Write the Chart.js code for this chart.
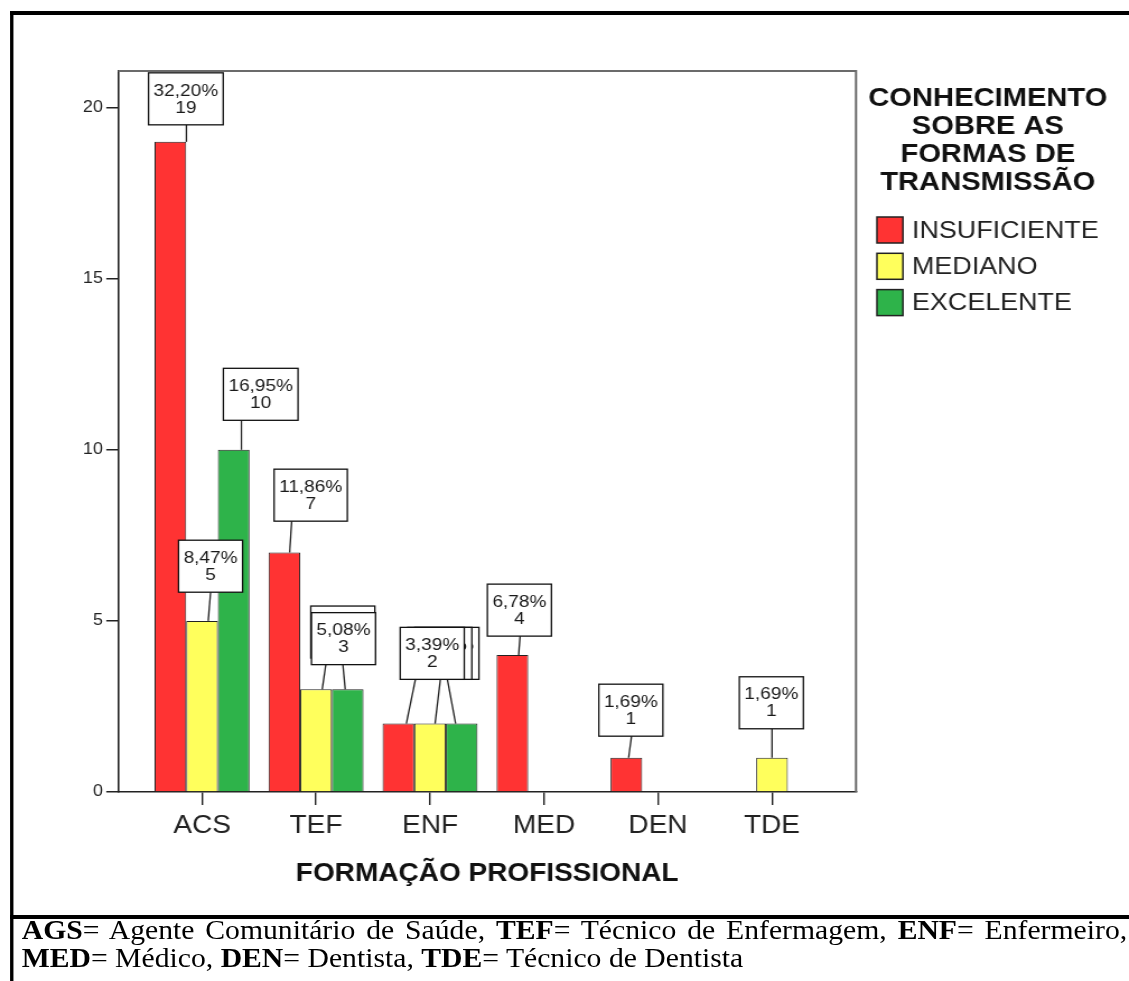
<!DOCTYPE html>
<html lang="pt-BR">
<head>
<meta charset="utf-8">
<title>Formação profissional e conhecimento sobre as formas de transmissão</title>
<script src="https://cdn.jsdelivr.net/npm/chart.js@4.4.1/dist/chart.umd.min.js"></script>
<style>
  html, body { margin: 0; padding: 0; background: #fff; overflow: hidden; }
  /* the figure is laid out at 1008px and widened to the 1129px page */
  #page { position: absolute; left: 0; top: 0; width: 1008px; height: 981px;
          transform: scaleX(1.12); transform-origin: 0 0; overflow: hidden; background: #fff; }
  #chart { position: absolute; left: 0; top: 0; }
  #frame { position: absolute; left: 8.5px; top: 11px; width: 1100px; height: 908px;
           box-sizing: border-box; border-top: 4px solid #000; border-left: 3px solid #000;
           border-bottom: 4px solid #000; pointer-events: none; }
  #noteBorder { position: absolute; left: 8.5px; top: 919px; width: 3px; height: 62px; background: #000; }
  #note { position: absolute; left: 19.4px; top: 916px; width: 987px;
          font-family: "Liberation Serif", "Times New Roman", serif; font-size: 26.5px;
          line-height: 28px; color: #000; }
  #note .just { text-align: justify; text-align-last: justify; }
</style>
</head>
<body>
<div id="page">
  <canvas id="chart" width="1008" height="915"></canvas>
  <div id="frame"></div>
  <div id="noteBorder"></div>
  <div id="note">
    <div class="just"><b>AGS</b>= Agente Comunitário de Saúde, <b>TEF</b>= Técnico de Enfermagem, <b>ENF</b>= Enfermeiro,</div>
    <div><b>MED</b>= Médico, <b>DEN</b>= Dentista, <b>TDE</b>= Técnico de Dentista</div>
  </div>
</div>
<script>
// Professional background categories
const categories = ['ACS', 'TEF', 'ENF', 'MED', 'DEN', 'TDE'];

// Knowledge level series (counts per category)
const seriesNames = ['INSUFICIENTE', 'MEDIANO', 'EXCELENTE'];
const insuficiente = [19, 7, 2, 4, 1, null];
const mediano      = [5, 3, 2, null, null, 1];
const excelente    = [10, 3, 2, null, null, null];

const yTicks = [0, 5, 10, 15, 20];
const legendTitle = ['CONHECIMENTO', 'SOBRE AS', 'FORMAS DE', 'TRANSMISSÃO'];
const xTitle = 'FORMAÇÃO PROFISSIONAL';

const seriesColors = ['#ff3333', '#ffff5c', '#2eb34a'];

// Callout placement, relative to the top centre of each bar:
// bx = box centre offset, gap = space between box and bar top,
// lt / lb = leader line x offsets at the box and at the bar.
const calloutPlacement = [
  [ {bx: 13.8, gap: 17,   lt: 14.3, lb: 14.3},
    {bx: 23.5, gap: 31.3, lt: 6.5,  lb: 4.7},
    {bx: 43.3, gap: 44.2, lt: 15.2, lb: 7.1},
    {bx: 6.25, gap: 19,   lt: 6.9,  lb: 5.6},
    {bx: 4,    gap: 21.6, lt: 4.6,  lb: 2},
    null ],
  [ {bx: 7.6,  gap: 28.7, lt: 7.6,  lb: 5.5},
    {bx: 23.9, gap: 31.3, lt: 9.6,  lb: 5.5},
    {bx: 8.7,  gap: 44.2, lt: 9.2,  lb: 4.5},
    null, null,
    {bx: -0.6, gap: 29,   lt: 0,    lb: 0} ],
  [ {bx: 24.1, gap: 29.5, lt: 6.9,  lb: 6.9},
    {bx: -3.75,gap: 24.7, lt: -4.3, lb: -2.2},
    {bx: -26.3,gap: 44.2, lt: -12.8,lb: -5.4},
    null, null, null ]
];

const seriesValues = [insuficiente, mediano, excelente];
const total = seriesValues.flat().reduce((s, v) => s + (v || 0), 0);

const FONT = '"Liberation Sans", Arial, sans-serif';

// Percentage + count callouts with leader lines
const calloutPlugin = {
  id: 'callouts',
  afterDatasetsDraw(chart) {
    const ctx = chart.ctx;
    ctx.save();
    ctx.font = '17px ' + FONT;
    ctx.textAlign = 'center';
    ctx.textBaseline = 'middle';
    chart.data.datasets.forEach((ds, di) => {
      const meta = chart.getDatasetMeta(di);
      meta.data.forEach((bar, ci) => {
        const v = seriesValues[di][ci];
        const p = calloutPlacement[di][ci];
        if (v == null || !p) return;
        const pct = (v / total * 100).toFixed(2).replace('.', ',') + '%';
        const w = ctx.measureText(pct).width + 9;
        const h = 52;
        const bottom = bar.y - p.gap;
        const top = bottom - h;
        const cx = bar.x + p.bx;
        // leader
        ctx.strokeStyle = '#222';
        ctx.lineWidth = 1.3;
        ctx.beginPath();
        ctx.moveTo(bar.x + p.lt, bottom);
        ctx.lineTo(bar.x + p.lb, bar.y);
        ctx.stroke();
        // box
        ctx.fillStyle = '#fff';
        ctx.fillRect(cx - w / 2, top, w, h);
        ctx.strokeStyle = '#111';
        ctx.strokeRect(cx - w / 2, top, w, h);
        // text
        ctx.fillStyle = '#1a1a1a';
        ctx.fillText(pct, cx, top + 18);
        ctx.fillText(String(v), cx, top + 35);
      });
    });
    ctx.restore();
  }
};

// Top/right plot border and the legend block on the right
const framePlugin = {
  id: 'plotFrameAndLegend',
  afterDraw(chart) {
    const {ctx, chartArea: a} = chart;
    ctx.save();
    ctx.strokeStyle = '#6b6b6b';
    ctx.lineWidth = 2;
    ctx.beginPath();
    ctx.moveTo(a.left, a.top);
    ctx.lineTo(a.right, a.top);
    ctx.lineTo(a.right, a.bottom);
    ctx.stroke();

    // legend title
    ctx.fillStyle = '#111';
    ctx.font = 'bold 26px ' + FONT;
    ctx.textAlign = 'center';
    ctx.textBaseline = 'middle';
    legendTitle.forEach((t, i) => ctx.fillText(t, 882, 99 + i * 28));

    // legend entries
    ctx.font = '24px ' + FONT;
    ctx.textAlign = 'left';
    chart.data.datasets.forEach((ds, i) => {
      const cy = 230 + i * 36.3;
      ctx.fillStyle = ds.backgroundColor;
      ctx.fillRect(783, cy - 13, 23.2, 26);
      ctx.strokeStyle = '#222';
      ctx.lineWidth = 1.5;
      ctx.strokeRect(783, cy - 13, 23.2, 26);
      ctx.fillStyle = '#222';
      ctx.fillText(ds.label, 814.3, cy + 1);
    });
    ctx.restore();
  }
};

const whiteBg = {
  id: 'whiteBg',
  beforeDraw(chart) {
    const ctx = chart.ctx;
    ctx.save();
    ctx.fillStyle = '#fff';
    ctx.fillRect(0, 0, chart.width, chart.height);
    ctx.restore();
  }
};

new Chart(document.getElementById('chart'), {
  type: 'bar',
  data: {
    datasets: seriesValues.map((vals, i) => ({
      label: seriesNames[i],
      data: vals.map((v, ci) => ({x: ci, y: v})),
      backgroundColor: seriesColors[i],
      borderColor: '#222',
      borderWidth: 1,
      categoryPercentage: 0.833,
      barPercentage: 1
    }))
  },
  options: {
    responsive: false,
    animation: false,
    devicePixelRatio: 1,
    layout: { padding: { left: 60.6, right: 243.7, top: 71, bottom: 23 } },
    plugins: { legend: { display: false }, tooltip: { enabled: false } },
    scales: {
      x: {
        type: 'linear',
        min: -0.735,
        max: 5.737,
        offset: false,
        afterBuildTicks: s => { s.ticks = categories.map((c, i) => ({ value: i })); },
        afterFit: s => { s.height = 100; },
        ticks: {
          autoSkip: false, maxRotation: 0, padding: 6,
          color: '#222', font: { family: FONT, size: 25 },
          callback: (v, i) => categories[i]
        },
        grid: { offset: false, drawOnChartArea: false, drawTicks: true, tickLength: 13, color: '#222', lineWidth: 1.4 },
        border: { display: true, color: '#222', width: 1.6 },
        title: {
          display: true, text: xTitle, color: '#111',
          font: { family: FONT, size: 25, weight: 'bold' },
          padding: { top: 0, bottom: 3 }
        }
      },
      y: {
        min: 0,
        max: 21.07,
        afterBuildTicks: s => { s.ticks = yTicks.map(v => ({ value: v })); },
        afterFit: s => { s.width = 45; },
        ticks: { padding: 3, color: '#222', font: { family: FONT, size: 16 } },
        grid: { drawOnChartArea: false, drawTicks: true, tickLength: 10.7, color: '#222', lineWidth: 1.5 },
        border: { display: true, color: '#222', width: 1.6 }
      }
    }
  },
  plugins: [whiteBg, calloutPlugin, framePlugin]
});
</script>
</body>
</html>
